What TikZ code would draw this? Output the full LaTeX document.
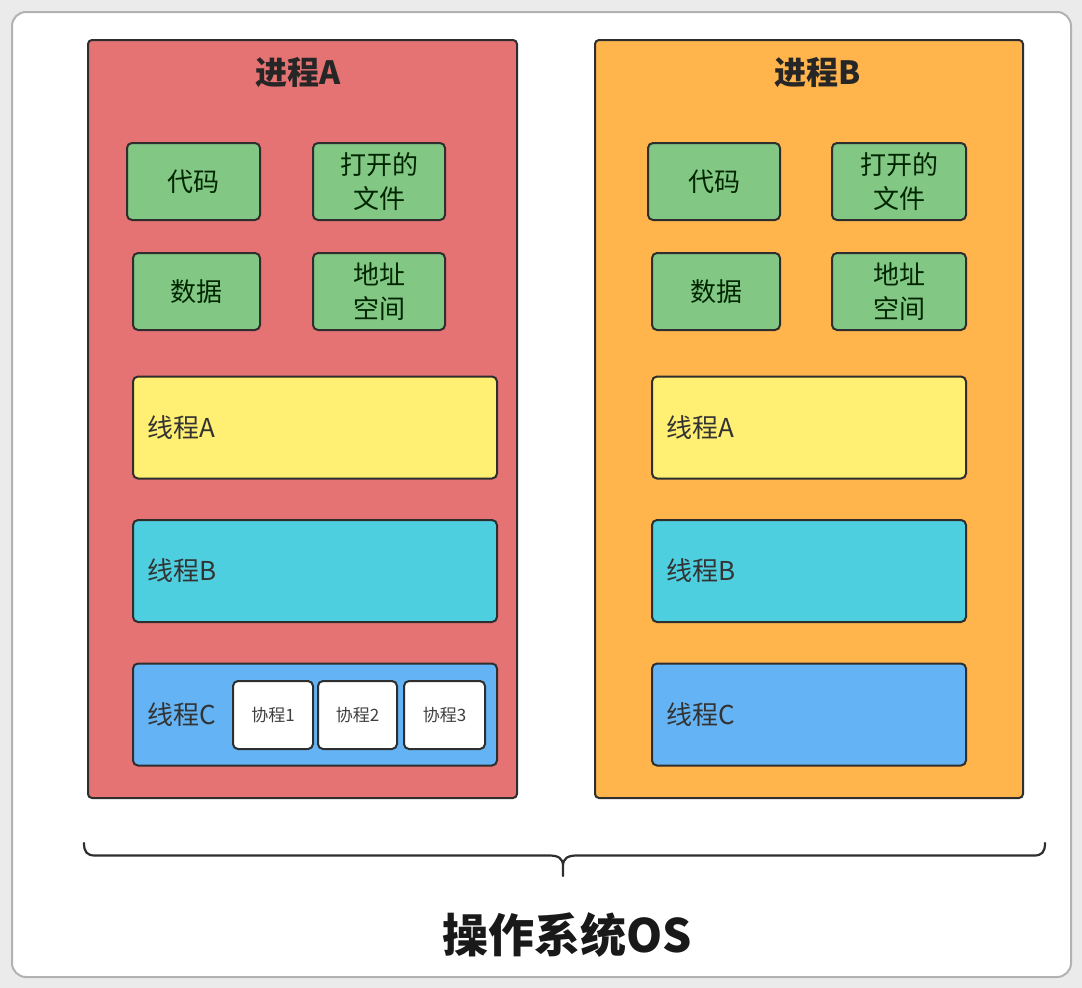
\documentclass[tikz,border=0pt]{standalone}
\usepackage{fontspec}
\setmainfont{Noto Sans CJK SC}
\usepackage{tikz}

\definecolor{procred}{HTML}{E67373}
\definecolor{procorange}{HTML}{FFB54C}
\definecolor{resgreen}{HTML}{82C784}
\definecolor{thryellow}{HTML}{FFEF72}
\definecolor{thrcyan}{HTML}{4DCFE0}
\definecolor{thrblue}{HTML}{64B4F5}
\definecolor{edge}{HTML}{2E2E2E}

\begin{document}
\begin{tikzpicture}[x=1pt,y=-1pt,
    proc/.style={draw=edge,line width=2pt,rounded corners=4pt},
    res/.style={draw=edge,line width=2pt,rounded corners=5pt,fill=resgreen,
      minimum height=77pt,align=center,text=black!75!green!60!black,
      font=\fontsize{26}{34}\selectfont},
    thread/.style={draw=edge,line width=2pt,rounded corners=5pt,align=left,
      inner xsep=14pt,minimum height=102pt,text=black!80,
      font=\fontsize{26}{30}\selectfont},
    corou/.style={draw=edge,line width=2pt,rounded corners=5pt,fill=white,
      minimum width=80pt,minimum height=68pt,text=black!75,
      font=\fontsize{17}{20}\selectfont},
    title/.style={font=\fontsize{32}{36}\selectfont\bfseries,text=black!85}]
    \useasboundingbox (0,0) rectangle (1082,988);
    \fill[black!8] (0,0) rectangle (1082,988);
    \draw[black!30,line width=2pt,fill=white,rounded corners=14pt] (12,12) rectangle (1071,977);

    % process A
    \node[proc,fill=procred,minimum width=429pt,minimum height=758pt] (procA) at (302.5,419) {};
    \node[title] (titleA) at (298,73) {进程A};
    \node[res,minimum width=133pt] (codeA) at (193.5,181.5) {代码};
    \node[res,minimum width=132pt] (fileA) at (379,181.5) {打开的\\文件};
    \node[res,minimum width=127pt] (dataA) at (196.5,291.5) {数据};
    \node[res,minimum width=132pt] (addrA) at (379,291.5) {地址\\空间};
    \node[thread,fill=thryellow,text width=336pt] (thrAA) at (315,427.5) {线程A};
    \node[thread,fill=thrcyan,text width=336pt] (thrBA) at (315,571) {线程B};
    \node[thread,fill=thrblue,text width=336pt] (thrCA) at (315,714.5) {线程C};
    \node[corou] (co1) at (273,715) {协程1};
    \node[corou,minimum width=79pt] (co2) at (357.5,715) {协程2};
    \node[corou,minimum width=81pt] (co3) at (444.5,715) {协程3};

    % process B
    \node[proc,fill=procorange,minimum width=428pt,minimum height=758pt] (procB) at (809,419) {};
    \node[title] (titleB) at (818,73) {进程B};
    \node[res,minimum width=132pt] (codeB) at (714,181.5) {代码};
    \node[res,minimum width=134pt] (fileB) at (899,181.5) {打开的\\文件};
    \node[res,minimum width=128pt] (dataB) at (716,291.5) {数据};
    \node[res,minimum width=134pt] (addrB) at (899,291.5) {地址\\空间};
    \node[thread,fill=thryellow,text width=286pt] (thrAB) at (809,427.5) {线程A};
    \node[thread,fill=thrcyan,text width=286pt] (thrBB) at (809,571) {线程B};
    \node[thread,fill=thrblue,text width=286pt] (thrCB) at (809,714.5) {线程C};

    % operating system
    \coordinate (braceL) at (84,843);
    \coordinate (braceR) at (1045,843);
    \coordinate (braceTip) at (563,876);
    \draw[edge,line width=2.2pt,line cap=round]
      (braceL) .. controls (84,852) and (87,855.5) .. (95,855.5) -- (549,855.5)
      .. controls (558,855.5) and (563,858) .. (563,866) -- (braceTip)
      (braceR) .. controls (1045,852) and (1042,855.5) .. (1034,855.5) -- (577,855.5)
      .. controls (568,855.5) and (563,858) .. (563,866);
    \node[font=\fontsize{46}{50}\selectfont\bfseries,text=black!90] (os) at (567,935) {操作系统OS};
\end{tikzpicture}
\end{document}
